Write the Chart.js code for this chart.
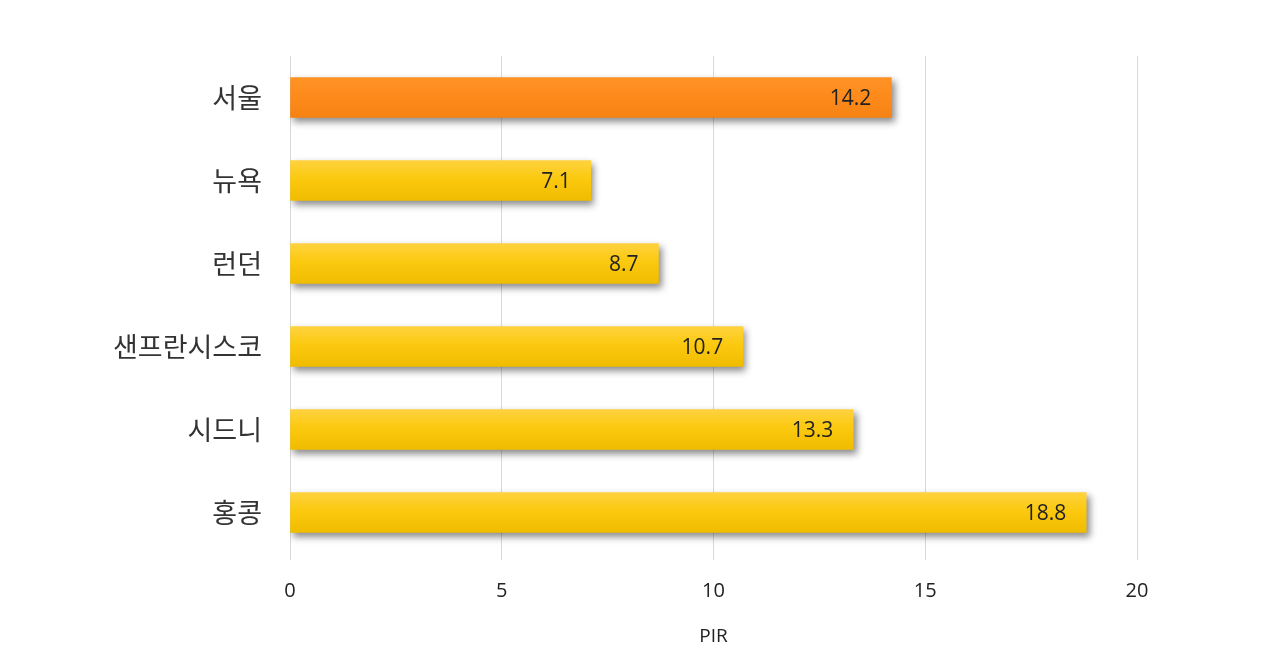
<!DOCTYPE html>
<html>
<head>
<meta charset="utf-8">
<script src="https://cdn.jsdelivr.net/npm/chart.js@4/dist/chart.umd.min.js"></script>
<style>
  html, body { margin: 0; padding: 0; background: #fff; }
  #wrap { width: 1280px; height: 664px; }
</style>
</head>
<body>
<div id="wrap"><canvas id="pirChart" width="1280" height="664"></canvas></div>
<script>
// 도시별 PIR
const cities = ['서울', '뉴욕', '런던', '샌프란시스코', '시드니', '홍콩'];
const pirValues = [14.2, 7.1, 8.7, 10.7, 13.3, 18.8];
const xTicks = [0, 5, 10, 15, 20];
const axisTitle = 'PIR';

const KR_FONT = "'Noto Sans CJK KR', 'Noto Sans', sans-serif";
const NUM_FONT = "'Open Sans', 'Noto Sans', sans-serif";
const BAR_H = 40;

// 막대별 세로 그라데이션 (서울만 주황)
function barFill(context) {
  const chart = context.chart;
  const y = chart.scales.y;
  if (!y || y.top === undefined) return '#f8c80f';
  const yc = y.getPixelForValue(context.dataIndex);
  const g = chart.ctx.createLinearGradient(0, yc - BAR_H / 2, 0, yc + BAR_H / 2);
  if (context.dataIndex === 0) {
    g.addColorStop(0, '#ff9326');
    g.addColorStop(0.5, '#fd8a1b');
    g.addColorStop(1, '#f58212');
  } else {
    g.addColorStop(0, '#ffd23f');
    g.addColorStop(0.45, '#fbc90f');
    g.addColorStop(1, '#f0bc00');
  }
  return g;
}

// 막대 그림자
const shadowPlugin = {
  id: 'barShadow',
  beforeDatasetsDraw(chart) {
    const ctx = chart.ctx;
    ctx.save();
    ctx.shadowColor = 'rgba(0,0,0,0.45)';
    ctx.shadowBlur = 7;
    ctx.shadowOffsetX = 3;
    ctx.shadowOffsetY = 4;
  },
  afterDatasetsDraw(chart) {
    chart.ctx.restore();
  }
};

// 값 라벨 (막대 끝 안쪽)
const valueLabels = {
  id: 'valueLabels',
  afterDraw(chart) {
    const ctx = chart.ctx;
    const meta = chart.getDatasetMeta(0);
    ctx.save();
    ctx.font = '21px ' + NUM_FONT;
    ctx.fillStyle = '#222';
    ctx.textAlign = 'right';
    ctx.textBaseline = 'middle';
    meta.data.forEach((bar, i) => {
      ctx.fillText(pirValues[i].toFixed(1), bar.x - 20, bar.y + 2);
    });
    ctx.restore();
  }
};

new Chart(document.getElementById('pirChart').getContext('2d'), {
  type: 'bar',
  data: {
    labels: cities,
    datasets: [{
      data: pirValues,
      backgroundColor: barFill,
      borderWidth: 0,
      barThickness: BAR_H
    }]
  },
  options: {
    indexAxis: 'y',
    responsive: false,
    animation: false,
    layout: { padding: { left: 0, right: 143, top: 56, bottom: 0 } },
    plugins: {
      legend: { display: false },
      tooltip: { enabled: false }
    },
    scales: {
      x: {
        min: 0,
        max: 20,
        afterBuildTicks(axis) { axis.ticks = xTicks.map(v => ({ value: v })); },
        afterFit(axis) { axis.height = 110; },
        grid: { color: '#d9d9d9', lineWidth: 1, drawTicks: true, tickLength: 6, tickColor: '#d9d9d9' },
        border: { display: false },
        ticks: { color: '#222', font: { family: NUM_FONT, size: 20 }, padding: 19 },
        title: {
          display: true,
          text: axisTitle,
          color: '#222',
          font: { family: NUM_FONT, size: 19 },
          padding: { top: 12, bottom: 16 }
        }
      },
      y: {
        afterFit(axis) { axis.width = 290; },
        grid: { display: false },
        border: { display: true, color: '#d9d9d9' },
        ticks: { color: '#333', font: { family: KR_FONT, size: 27 }, padding: 20 }
      }
    }
  },
  plugins: [shadowPlugin, valueLabels]
});
</script>
</body>
</html>
